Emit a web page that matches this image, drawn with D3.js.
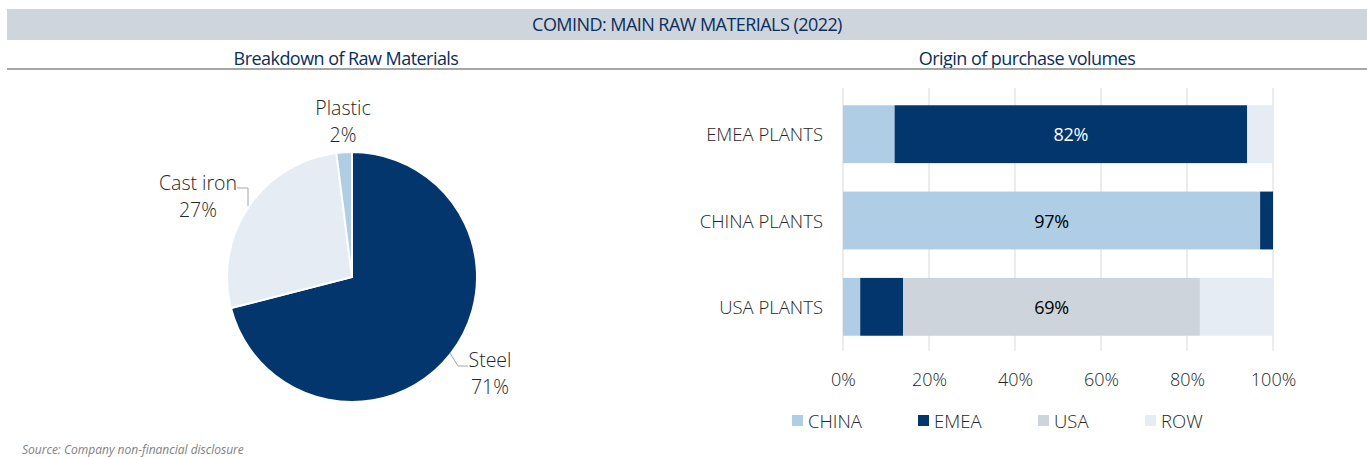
<!DOCTYPE html>
<html><head><meta charset="utf-8">
<script src="https://cdn.jsdelivr.net/npm/d3@7"></script>
<style>
body{margin:0;background:#fff;}
svg{display:block;font-family:"Open Sans","Noto Sans",sans-serif;}
</style></head>
<body><svg id="c" width="1367" height="457"></svg>
<script>
const title = "COMIND: MAIN RAW MATERIALS (2022)";
const leftTitle = "Breakdown of Raw Materials";
const rightTitle = "Origin of purchase volumes";
const source = "Source: Company non-financial disclosure";

const pieLabels = ["Steel", "Cast iron", "Plastic"];
const pieValues = [71, 27, 2];
const pieColors = ["#03366D", "#E5ECF3", "#AFCDE4"];

const plants = ["EMEA PLANTS", "CHINA PLANTS", "USA PLANTS"];
const seriesNames = ["CHINA", "EMEA", "USA", "ROW"];
const seriesColors = ["#AFCDE4", "#03366D", "#CDD4DB", "#E5ECF3"];
const chinaVals = [12, 97, 4];
const emeaVals = [82, 3, 10];
const usaVals = [0, 0, 69];
const rowVals = [6, 0, 17];
const xTicks = [0, 20, 40, 60, 80, 100];

const svg = d3.select("#c");
const navy = "#0B2D5B";
const txt = "#262626";

// Header band
svg.append("rect").attr("x", 7).attr("y", 9).attr("width", 1360).attr("height", 31).attr("fill", "#CED5DC");
const hdr = sel => sel.attr("text-anchor", "middle").attr("font-size", 18).attr("fill", navy).attr("letter-spacing", -0.55);
svg.append("text").attr("x", 687).attr("y", 31).call(hdr).text(title);
svg.append("text").attr("x", 346).attr("y", 65).call(hdr).text(leftTitle);
svg.append("text").attr("x", 1027).attr("y", 65).call(hdr).text(rightTitle);
svg.append("rect").attr("x", 7).attr("y", 68).attr("width", 1360).attr("height", 2).attr("fill", "#A6A6A6");

// Pie
const cx = 352, cy = 277, r = 125;
const pie = d3.pie().sort(null).value(d => d)(pieValues);
const arc = d3.arc().innerRadius(0).outerRadius(r);
const pg = svg.append("g").attr("transform", `translate(${cx},${cy})`);
pg.selectAll("path").data(pie).enter().append("path")
  .attr("d", arc).attr("fill", (d, i) => pieColors[i]).attr("stroke", "#fff").attr("stroke-width", 2);

const labelStyle = sel => sel.attr("font-size", 19.5).attr("fill", txt).attr("font-weight", 300).attr("text-anchor", "middle");
const lblPos = [
  {x: 490, y: 367, line: [[450, 353], [458, 366], [468, 366]]},
  {x: 198, y: 190, line: [[237, 188], [248, 188], [248, 206]]},
  {x: 343, y: 115, line: null}
];
pie.forEach((d, i) => {
  const p = lblPos[i];
  svg.append("text").attr("x", p.x).attr("y", p.y).call(labelStyle).text(pieLabels[i]);
  svg.append("text").attr("x", p.x).attr("y", p.y + 27).call(labelStyle).text(d3.format("d")(pieValues[i]) + "%");
  if (p.line) svg.append("path").attr("d", d3.line()(p.line)).attr("fill", "none").attr("stroke", "#A6A6A6").attr("stroke-width", 1);
});

// Bar chart
const x = d3.scaleLinear().domain([0, 100]).range([843, 1273]);
const y = d3.scaleBand().domain(plants).range([88, 353]).paddingInner(0.33).paddingOuter(0.2);
const grid = svg.append("g");
grid.selectAll("line").data(xTicks).enter().append("line")
  .attr("x1", d => x(d)).attr("x2", d => x(d)).attr("y1", 88).attr("y2", 351)
  .attr("stroke", "#D9D9D9").attr("stroke-width", 1);

const rows = plants.map((p, i) => ({plant: p, CHINA: chinaVals[i], EMEA: emeaVals[i], USA: usaVals[i], ROW: rowVals[i]}));
const stack = d3.stack().keys(seriesNames)(rows);
const bars = svg.append("g");
stack.forEach((s, si) => {
  bars.selectAll(null).data(s).enter().append("rect")
    .attr("x", d => x(d[0])).attr("width", d => x(d[1]) - x(d[0]))
    .attr("y", d => y(d.data.plant)).attr("height", y.bandwidth())
    .attr("fill", seriesColors[si]);
});
rows.forEach(row => {
  let best = 0, s0 = 0;
  seriesNames.forEach((k, ki) => { if (row[k] > row[seriesNames[best]]) best = ki; });
  seriesNames.forEach((k, ki) => { if (ki < best) s0 += row[k]; });
  const v = row[seriesNames[best]];
  svg.append("text").attr("x", x(s0 + v / 2)).attr("y", y(row.plant) + y.bandwidth() / 2 + 7)
    .attr("text-anchor", "middle").attr("font-size", 18).attr("letter-spacing", -0.3)
    .attr("fill", seriesNames[best] === "EMEA" ? "#fff" : "#000").text(v + "%");
});

svg.append("g").selectAll("text").data(plants).enter().append("text")
  .attr("x", 823).attr("y", d => y(d) + y.bandwidth() / 2 + 7).attr("text-anchor", "end")
  .attr("font-size", 18.5).attr("fill", txt).attr("font-weight", 300).text(d => d);

const xAxis = d3.axisBottom(x).tickValues(xTicks).tickFormat(d => d + "%").tickSize(0).tickPadding(0);
const ax = svg.append("g").attr("transform", "translate(0,373)").call(xAxis);
ax.select(".domain").remove();
ax.selectAll("text").attr("font-size", 18).attr("fill", txt).attr("font-weight", 300)
  .attr("font-family", "'Open Sans','Noto Sans',sans-serif");

const legX = [792, 918, 1038, 1145];
const lg = svg.append("g");
seriesNames.forEach((n, i) => {
  lg.append("rect").attr("x", legX[i]).attr("y", 415).attr("width", 11).attr("height", 11).attr("fill", seriesColors[i]);
  lg.append("text").attr("x", legX[i] + 16).attr("y", 428).attr("font-size", 18.5).attr("fill", txt).attr("font-weight", 300).text(n);
});

svg.append("text").attr("x", 22).attr("y", 454).attr("font-size", 12).attr("font-style", "italic").attr("fill", "#7F7F7F").text(source);
</script></body></html>
